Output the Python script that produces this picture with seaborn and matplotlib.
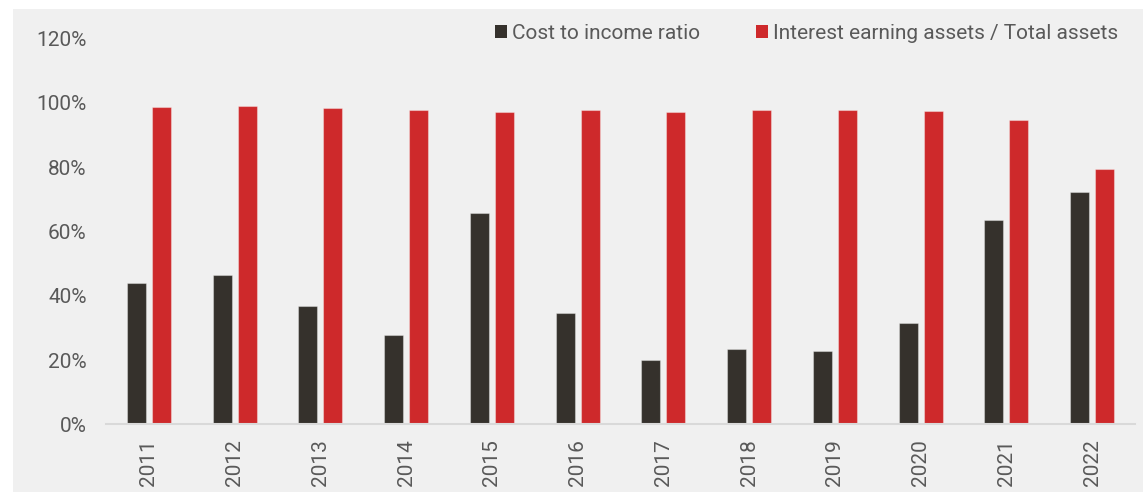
import matplotlib
matplotlib.use("Agg")
import matplotlib.pyplot as plt
from matplotlib.patches import Patch, Rectangle
from matplotlib.ticker import FuncFormatter, MultipleLocator
import seaborn as sns
import pandas as pd

years = ["2011", "2012", "2013", "2014", "2015", "2016", "2017", "2018", "2019", "2020", "2021", "2022"]
cost_to_income = [43.8, 46.3, 36.7, 27.9, 65.7, 34.7, 20.1, 23.3, 22.8, 31.6, 63.7, 72.1]
iea_to_assets = [98.6, 99.1, 98.4, 97.9, 97.0, 97.7, 97.0, 97.7, 97.7, 97.4, 94.5, 79.5]
series_names = ["Cost to income ratio", "Interest earning assets / Total assets"]
colors = ["#35312C", "#CE292B"]

df = pd.DataFrame({
    "year": years * 2,
    "value": cost_to_income + iea_to_assets,
    "series": [series_names[0]] * len(years) + [series_names[1]] * len(years),
})

sns.set_theme(style="white")
plt.rcParams["font.family"] = ["Roboto", "DejaVu Sans"]
BG = "#F0F0F0"
TXT = "#595959"

fig = plt.figure(figsize=(11.43, 4.92), dpi=100)
fig.patch.set_facecolor("white")
fig.add_artist(Rectangle((13 / 1143, 0), 1, 1 - 9 / 492, transform=fig.transFigure,
                         facecolor=BG, edgecolor="none", zorder=-10))

ax = fig.add_axes([106 / 1143, 1 - 424.3 / 492, (1135 - 106) / 1143, (424.3 - 38.5) / 492])
ax.set_facecolor(BG)

sns.barplot(data=df, x="year", y="value", hue="series", palette=colors, order=years,
            hue_order=series_names, width=0.583, gap=0.24, ax=ax, legend=False,
            edgecolor=(1, 1, 1, 0.35), linewidth=0.8, saturation=1)

ax.set_ylim(0, 120)
ax.set_xlim(-0.5, len(years) - 0.5)
ax.yaxis.set_major_locator(MultipleLocator(20))
ax.yaxis.set_major_formatter(FuncFormatter(lambda v, p: f"{v:.0f}%"))
ax.set_xlabel("")
ax.set_ylabel("")
ax.tick_params(axis="y", length=0, pad=14, labelsize=15, labelcolor=TXT)
ax.tick_params(axis="x", length=0, pad=11, labelsize=15, labelcolor=TXT, rotation=90)
for s in ["top", "right", "left"]:
    ax.spines[s].set_visible(False)
ax.spines["bottom"].set_color("#D9D9D9")
ax.spines["bottom"].set_linewidth(1.5)
ax.grid(False)

handles = [Patch(facecolor=c, edgecolor="none") for c in colors]
leg = fig.legend(handles, series_names, loc="upper right", ncol=2, frameon=False,
                 bbox_to_anchor=(1118 / 1143, 1 - 24 / 492), bbox_transform=fig.transFigure,
                 fontsize=15, handlelength=0.55, handleheight=0.55, handletextpad=0.25,
                 columnspacing=2.7, borderpad=0, borderaxespad=0)
for t in leg.get_texts():
    t.set_color(TXT)

fig.savefig("out.png", dpi=100, facecolor=fig.get_facecolor())
